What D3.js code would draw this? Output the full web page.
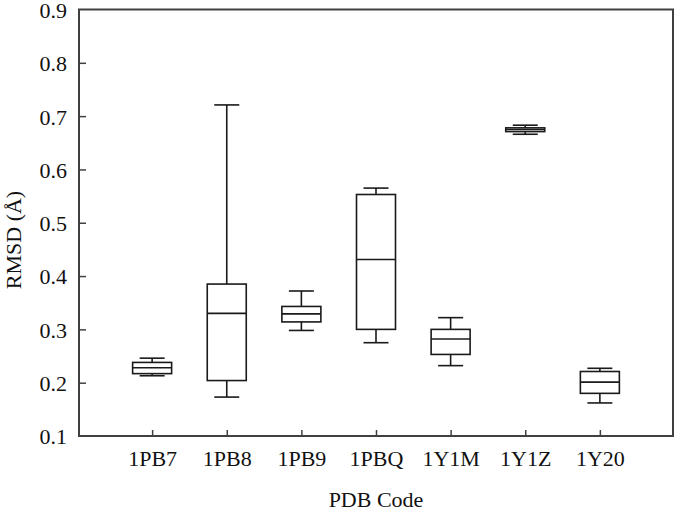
<!DOCTYPE html>
<html>
<head>
<meta charset="utf-8">
<script src="https://cdn.jsdelivr.net/npm/d3@7"></script>
<style>
  body { margin: 0; background: #fff; }
  svg text { font-family: 'Liberation Serif', Tinos, 'Times New Roman', Times, serif; fill: #111; }
</style>
</head>
<body>
<div id="chart"><svg></svg></div>
<script>
// box plot values
const categories = ['1PB7', '1PB8', '1PB9', '1PBQ', '1Y1M', '1Y1Z', '1Y20'];
const whiskerLow = [0.213, 0.173, 0.298, 0.275, 0.232, 0.666, 0.162];
const q1 = [0.217, 0.204, 0.314, 0.300, 0.253, 0.671, 0.180];
const median = [0.228, 0.330, 0.329, 0.431, 0.282, 0.675, 0.201];
const q3 = [0.238, 0.385, 0.343, 0.553, 0.300, 0.678, 0.221];
const whiskerHigh = [0.246, 0.721, 0.372, 0.565, 0.322, 0.683, 0.227];
const yTicks = [0.1, 0.2, 0.3, 0.4, 0.5, 0.6, 0.7, 0.8, 0.9];

const data = categories.map((c, i) => ({
  name: c, lo: whiskerLow[i], q1: q1[i], med: median[i], q3: q3[i], hi: whiskerHigh[i]
}));

const W = 675, H = 512;
const margin = {top: 9.5, right: 2, bottom: 76, left: 79};
const width = W - margin.left - margin.right;
const height = H - margin.top - margin.bottom;

const svg = d3.select('svg').attr('width', W).attr('height', H);
const g = svg.append('g').attr('transform', 'translate(' + margin.left + ',' + margin.top + ')');

const x = d3.scalePoint().domain(categories).range([0, width]).padding(0.98);
const y = d3.scaleLinear().domain([0.1, 0.9]).range([height, 0]);

const axisColor = '#404040';

// left axis, ticks pointing inward
const yAxis = g.append('g')
  .call(d3.axisLeft(y).tickValues(yTicks).tickFormat(d3.format('.1f')).tickSize(-7).tickPadding(12));
yAxis.attr('font-family', null);
yAxis.select('.domain').remove();
yAxis.selectAll('.tick line')
  .attr('stroke', axisColor).attr('stroke-width', 1.5)
  .attr('display', d => (d === 0.1 || d === 0.9) ? 'none' : null);
yAxis.selectAll('.tick text').attr('font-size', 22).attr('fill', '#111').attr('dy', '0.36em');

// bottom axis
const xAxis = g.append('g')
  .attr('transform', 'translate(0,' + height + ')')
  .call(d3.axisBottom(x).tickSize(-6).tickPadding(14));
xAxis.attr('font-family', null);
xAxis.select('.domain').remove();
xAxis.selectAll('.tick line').attr('stroke', axisColor).attr('stroke-width', 1.5);
xAxis.selectAll('.tick text').attr('font-size', 22).attr('fill', '#111');

// frame
g.append('rect')
  .attr('width', width).attr('height', height)
  .attr('fill', 'none').attr('stroke', axisColor).attr('stroke-width', 2);

// boxes
const boxW = 39, capW = 25;
const box = g.selectAll('.box').data(data).enter().append('g')
  .attr('transform', d => 'translate(' + x(d.name) + ',0)')
  .attr('stroke', '#1a1a1a').attr('stroke-width', 1.6).attr('fill', 'none');

box.append('line').attr('x1', 0).attr('x2', 0)
  .attr('y1', d => y(d.hi)).attr('y2', d => y(d.q3));
box.append('line').attr('x1', 0).attr('x2', 0)
  .attr('y1', d => y(d.q1)).attr('y2', d => y(d.lo));
box.append('line').attr('x1', -capW / 2).attr('x2', capW / 2)
  .attr('y1', d => y(d.hi)).attr('y2', d => y(d.hi));
box.append('line').attr('x1', -capW / 2).attr('x2', capW / 2)
  .attr('y1', d => y(d.lo)).attr('y2', d => y(d.lo));
box.append('rect')
  .attr('x', -boxW / 2).attr('width', boxW)
  .attr('y', d => y(d.q3)).attr('height', d => y(d.q1) - y(d.q3));
box.append('line').attr('x1', -boxW / 2).attr('x2', boxW / 2)
  .attr('y1', d => y(d.med)).attr('y2', d => y(d.med));

// axis titles
svg.append('text')
  .attr('x', margin.left + width / 2).attr('y', 507)
  .attr('text-anchor', 'middle').attr('font-size', 22)
  .text('PDB Code');

svg.append('text')
  .attr('transform', 'translate(21,240) rotate(-90)')
  .attr('text-anchor', 'middle').attr('font-size', 22)
  .text('RMSD (Å)');
</script>
</body>
</html>
